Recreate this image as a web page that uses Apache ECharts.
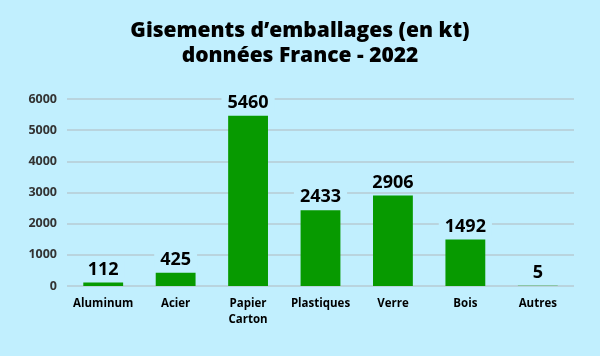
<!DOCTYPE html>
<html><head><meta charset="utf-8">
<script src="https://cdn.jsdelivr.net/npm/echarts@6/dist/echarts.min.js"></script>
<style>html,body{margin:0;padding:0;background:#c1effe}#c{width:600px;height:356px}</style>
</head><body><div id="c"></div>
<script>
const categories = ['Aluminum', 'Acier', 'Papier\nCarton', 'Plastiques', 'Verre', 'Bois', 'Autres'];
const values = [112, 425, 5460, 2433, 2906, 1492, 5];
const yTicks = [0, 1000, 2000, 3000, 4000, 5000, 6000];
const BG = '#c1effe';
const chart = echarts.init(document.getElementById('c'));
chart.setOption({
  backgroundColor: BG,
  animation: false,
  title: {
    text: 'Gisements d\u2019emballages (en kt)\ndonnées France - 2022',
    left: 'center', top: 14,
    textStyle: {fontFamily: 'Open Sans', fontWeight: 800, fontSize: 21, lineHeight: 25, color: '#000'}
  },
  grid: {left: 67, right: 26, top: 99, bottom: 70},
  xAxis: {
    type: 'category', data: categories,
    axisLine: {show: false}, axisTick: {show: false},
    axisLabel: {fontFamily: 'Open Sans', fontWeight: 'bold', fontSize: 11.5, color: '#000', margin: 10, lineHeight: 16, interval: 0}
  },
  yAxis: {
    type: 'value', min: yTicks[0], max: yTicks[yTicks.length - 1], interval: 1000,
    axisLine: {show: false}, axisTick: {show: false},
    axisLabel: {fontFamily: 'Open Sans', fontWeight: 'bold', fontSize: 12.5, color: '#333', margin: 10,
      formatter: v => String(v)},
    splitLine: {lineStyle: {color: '#b9d4de', width: 2}}
  },
  series: [{
    type: 'bar', data: values, barWidth: '55%',
    itemStyle: {color: '#079a00'},
    label: {show: true, position: 'top', distance: 4, fontFamily: 'Open Sans', fontWeight: 'bold', fontSize: 18, color: '#000',
      backgroundColor: BG, padding: [0, 6, 0, 6]}
  }]
});
</script></body></html>
